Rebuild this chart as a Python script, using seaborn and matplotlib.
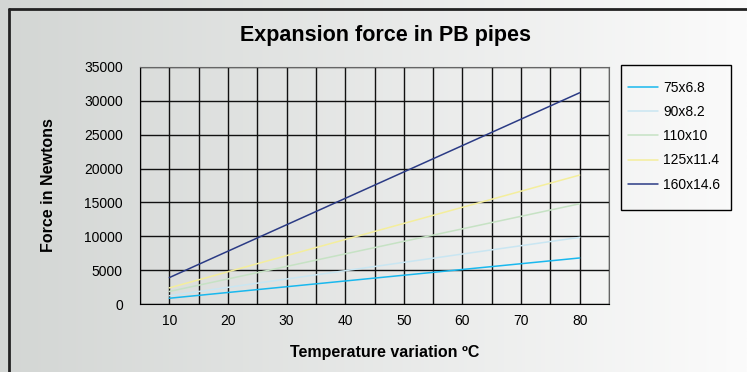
import numpy as np
import pandas as pd
import seaborn as sns
import matplotlib.pyplot as plt
from matplotlib.colors import LinearSegmentedColormap
from matplotlib.lines import Line2D
from matplotlib.patches import Rectangle

# values
temps = [10, 20, 30, 40, 50, 60, 70, 80]
pipe_75 = [850, 1700, 2550, 3400, 4250, 5100, 5950, 6800]
pipe_90 = [1230, 2460, 3690, 4920, 6150, 7380, 8610, 9840]
pipe_110 = [1850, 3700, 5550, 7400, 9250, 11100, 12950, 14800]
pipe_125 = [2380, 4760, 7140, 9520, 11900, 14280, 16660, 19040]
pipe_160 = [3900, 7800, 11700, 15600, 19500, 23400, 27300, 31200]
names = ['75x6.8', '90x8.2', '110x10', '125x11.4', '160x14.6']
colors = ['#19b8ee', '#c9e6f2', '#c6e2c4', '#f4ee9c', '#2b3b85']

df = pd.DataFrame({'temp': temps, '75x6.8': pipe_75, '90x8.2': pipe_90,
                   '110x10': pipe_110, '125x11.4': pipe_125, '160x14.6': pipe_160})
long = df.melt(id_vars='temp', var_name='pipe', value_name='force')

sns.set_style('white')
plt.rcParams['font.family'] = ['Liberation Sans', 'DejaVu Sans']
plt.rcParams.update({'text.color': 'black', 'axes.labelcolor': 'black',
                     'xtick.color': 'black', 'ytick.color': 'black'})

fig = plt.figure(figsize=(7.47, 3.72), dpi=100)

# gradient background
bg = fig.add_axes([0, 0, 1, 1], zorder=-10)
grad = np.linspace(0, 1, 256).reshape(1, -1)
bg.imshow(grad, aspect='auto', cmap=LinearSegmentedColormap.from_list('bg', ['#d3d6d4', '#fbfbfb']),
          extent=[0, 1, 0, 1])
bg.set_xlim(0, 1)
bg.set_ylim(0, 1)
bg.axis('off')

fig.add_artist(Line2D([9 / 747, 1], [1 - 9 / 372, 1 - 9 / 372], color='#222222', lw=2))
fig.add_artist(Line2D([9 / 747, 9 / 747], [0, 1 - 9 / 372], color='#222222', lw=2))

ax = fig.add_axes([140 / 747, 1 - 304 / 372, 469 / 747, 237 / 372])
ax.set_facecolor('none')

sns.lineplot(data=long, x='temp', y='force', hue='pipe', palette=colors,
             hue_order=names, linewidth=1.1, ax=ax, legend=True)

ax.set_xlim(5, 85)
ax.set_ylim(0, 35000)
ax.set_xticks(temps)
ax.set_xticks(np.arange(5, 90, 10), minor=True)
ax.set_yticks(np.arange(0, 35001, 5000))
ax.grid(True, which='both', color='#111111', lw=1)
ax.set_axisbelow(True)
ax.tick_params(axis='x', which='major', length=0, labelsize=10, pad=7)
ax.tick_params(axis='x', which='minor', length=4.3, width=1, color='black', direction='out')
ax.tick_params(axis='y', length=4.3, width=1, color='black', direction='out', labelsize=10, pad=8)
for s in ['top', 'right']:
    ax.spines[s].set_color('#666666')
for s in ['left', 'bottom']:
    ax.spines[s].set_color('black')

ax.set_xlabel('Temperature variation ºC', fontsize=11.5, fontweight='bold')
ax.xaxis.set_label_coords((385 - 140) / 469, -0.175)
ax.set_ylabel('Force in Newtons', fontsize=11.5, fontweight='bold', labelpad=20)
fig.text(385 / 747, 1 - 36 / 372, 'Expansion force in PB pipes', ha='center', va='center',
         fontsize=15.5, fontweight='bold')

# legend box drawn separately so its size matches the reference
fig.add_artist(Rectangle((621 / 747, 1 - 210 / 372), 110 / 747, 145 / 372,
                         transform=fig.transFigure, fill=False, edgecolor='black', lw=1))
handles, labels = ax.get_legend_handles_labels()
leg = ax.legend(handles, labels, loc='upper left', bbox_to_anchor=(628 / 747, 1 - 81 / 372),
                bbox_transform=fig.transFigure, fontsize=10, frameon=False,
                handlelength=2.15, labelspacing=0.73, borderpad=0, handletextpad=0.4,
                borderaxespad=0)

plt.savefig('out.png', dpi=100)
